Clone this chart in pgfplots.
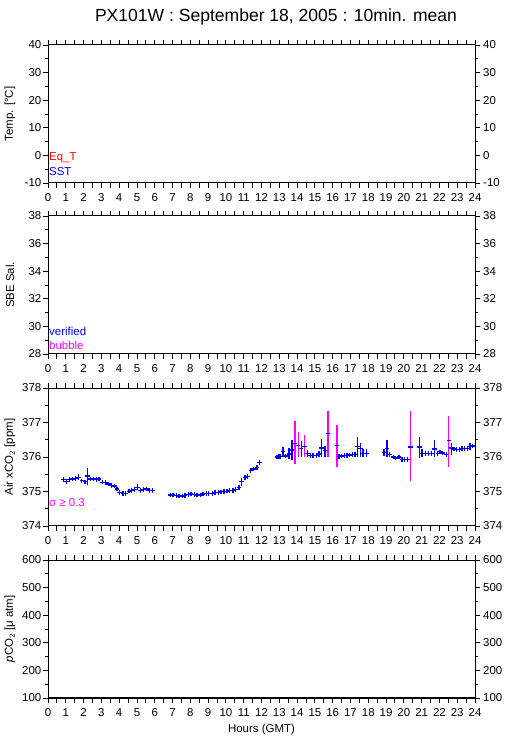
\documentclass[border=0pt]{standalone}
\usepackage{fontspec}
\setmainfont{Liberation Sans}
\usepackage{pgfplots}
\pgfplotsset{compat=1.18}
\usepackage{pgfplotstable}
\definecolor{mag}{RGB}{255,0,255}
\definecolor{pblue}{RGB}{0,0,255}
\definecolor{pred}{RGB}{255,0,0}

% 10-min mean Air xCO2, verified (blue)
\pgfplotstableread{
h y ep em
0.88 375.34 0.04 0.04
1.03 375.29 0.05 0.05
1.20 375.34 0.04 0.04
1.37 375.36 0.04 0.04
1.55 375.38 0.05 0.05
1.70 375.40 0.10 0.06
1.90 375.31 0.04 0.04
2.08 375.28 0.04 0.04
2.23 375.45 0.23 0.26
2.38 375.36 0.04 0.04
2.56 375.36 0.04 0.04
2.72 375.34 0.04 0.04
2.86 375.36 0.06 0.06
3.05 375.27 0.04 0.04
3.24 375.26 0.04 0.04
3.39 375.22 0.04 0.04
3.58 375.17 0.05 0.05
3.73 375.16 0.05 0.05
3.88 375.07 0.06 0.06
4.03 374.97 0.04 0.04
4.21 374.95 0.04 0.04
4.36 374.95 0.04 0.04
4.55 375.01 0.04 0.04
4.70 375.03 0.04 0.04
4.85 375.05 0.05 0.05
5.04 375.12 0.10 0.08
5.19 375.03 0.04 0.04
5.37 375.05 0.04 0.04
5.52 375.07 0.04 0.04
5.71 375.03 0.04 0.04
5.86 375.03 0.04 0.04
6.87 374.90 0.04 0.04
7.02 374.90 0.04 0.04
7.21 374.89 0.04 0.04
7.36 374.87 0.04 0.04
7.55 374.87 0.04 0.04
7.70 374.89 0.04 0.04
7.88 374.91 0.04 0.04
8.03 374.93 0.04 0.04
8.22 374.92 0.04 0.04
8.37 374.90 0.04 0.04
8.56 374.90 0.04 0.04
8.71 374.93 0.04 0.04
8.90 374.95 0.04 0.04
9.04 374.95 0.04 0.04
9.23 374.95 0.04 0.04
9.38 374.97 0.04 0.04
9.57 374.97 0.04 0.04
9.72 374.99 0.04 0.04
9.90 375.00 0.04 0.04
10.06 375.01 0.04 0.04
10.20 375.03 0.04 0.04
10.39 375.03 0.04 0.04
10.54 375.05 0.04 0.04
10.73 375.12 0.05 0.05
10.88 375.29 0.10 0.12
11.07 375.40 0.06 0.06
11.22 375.43 0.06 0.06
11.40 375.61 0.05 0.05
11.55 375.65 0.04 0.04
11.74 375.70 0.04 0.04
11.90 375.84 0.05 0.05
12.87 376.00 0.04 0.04
12.98 376.01 0.05 0.05
13.07 376.01 0.04 0.04
13.20 376.15 0.15 0.15
13.35 376.03 0.04 0.04
13.54 376.09 0.16 0.16
13.72 376.20 0.28 0.28
14.23 376.24 0.22 0.24
14.57 376.11 0.10 0.10
14.74 376.05 0.04 0.04
14.90 376.05 0.04 0.04
15.08 376.05 0.04 0.04
15.23 376.09 0.08 0.08
15.38 376.26 0.26 0.26
15.57 376.18 0.13 0.18
16.35 376.01 0.04 0.04
16.50 376.03 0.04 0.04
16.65 376.04 0.04 0.04
16.80 376.05 0.04 0.04
16.95 376.06 0.04 0.04
17.10 376.08 0.04 0.04
17.25 376.08 0.04 0.04
17.40 376.30 0.28 0.30
17.55 376.24 0.17 0.24
17.70 376.11 0.11 0.11
17.90 376.11 0.11 0.11
18.88 376.13 0.10 0.10
19.05 376.25 0.25 0.25
19.20 376.07 0.04 0.04
19.40 376.00 0.04 0.04
19.55 375.97 0.04 0.04
19.72 376.00 0.04 0.04
19.90 375.93 0.04 0.04
20.05 375.92 0.04 0.04
20.20 375.92 0.04 0.04
20.87 376.29 0.29 0.32
21.02 376.11 0.12 0.12
21.20 376.11 0.04 0.04
21.37 376.11 0.04 0.04
21.54 376.11 0.04 0.04
21.72 376.23 0.25 0.23
21.91 376.11 0.04 0.04
22.04 376.15 0.04 0.04
22.18 376.12 0.04 0.04
22.38 376.08 0.04 0.04
22.67 376.26 0.15 0.21
22.82 376.23 0.04 0.04
22.97 376.21 0.04 0.04
23.12 376.21 0.04 0.04
23.27 376.24 0.04 0.04
23.42 376.24 0.04 0.04
23.57 376.25 0.04 0.04
23.72 376.30 0.10 0.10
23.87 376.32 0.05 0.05
}\xcoblue

% points with sigma >= 0.3 (magenta bars, blue mean dash)
\pgfplotstableread{
h y ep em
13.89 376.40 0.63 0.61
14.06 376.34 0.39 0.34
14.40 376.30 0.34 0.30
15.73 376.69 0.65 0.69
16.24 376.34 0.59 0.62
20.38 376.29 1.03 1.00
22.53 376.48 0.70 0.76
}\xcohigh

\newcommand{\lab}{\fontsize{11.5}{12}\selectfont}

\pgfplotsset{
  panel/.style={
    scale only axis, width=427bp, height=138bp, anchor=south west,
    xmin=0, xmax=24,
    xtick={0,0.5,...,24},
    xticklabels={0,,1,,2,,3,,4,,5,,6,,7,,8,,9,,10,,11,,12,,13,,14,,15,,16,,17,,18,,19,,20,,21,,22,,23,,24},
    tick align=outside,
    major tick length=5bp, minor tick length=3bp,
    minor y tick num=1,
    axis line style={line width=1bp},
    every tick/.style={black, line width=0.9bp},
    /pgf/number format/assume math mode=true,
    tick label style={font=\lab},
    xticklabel style={inner sep=1bp, yshift=-4bp},
    yticklabel style={inner sep=1.5bp},
    every axis y label/.style={font=\lab, at={(rel axis cs:0,0.5)}, xshift=-38bp, rotate=90, anchor=center},
    every axis x label/.style={font=\lab, at={(rel axis cs:0.5,0)}, yshift=-32bp, anchor=center},
    clip=false,
  },
  rightlab/.style={panel, yticklabel pos=right, xticklabels={}, yticklabel style={inner sep=3bp}},
}

\begin{document}
\begin{tikzpicture}
\path (0,0) rectangle (509bp,739bp);
\node[font=\fontsize{17.6}{18}\selectfont] at (276bp,722bp) {PX101W : September 18, 2005 : 10min. mean};

% panel 1: temperature
\begin{axis}[panel, at={(48bp,556bp)}, ymin=-10, ymax=40, ytick={-10,0,...,40},
  ylabel={Temp. [°C]}]
\node[anchor=west, text=pred, inner sep=1bp, font=\lab] at (rel axis cs:0,0.18) {Eq\_T};
\node[anchor=west, text=pblue, inner sep=1bp, font=\lab] at (rel axis cs:0,0.08) {SST};
\end{axis}
\begin{axis}[rightlab, at={(48bp,556bp)}, ymin=-10, ymax=40, ytick={-10,0,...,40}]
\end{axis}

% panel 2: salinity
\begin{axis}[panel, at={(48bp,385bp)}, ymin=28, ymax=38, ytick={28,30,...,38},
  ylabel={SBE Sal.}]
\node[anchor=west, text=pblue, inner sep=1bp, font=\lab] at (rel axis cs:0,0.167) {verified};
\node[anchor=west, text=mag, inner sep=1bp, font=\lab] at (rel axis cs:0,0.065) {bubble};
\end{axis}
\begin{axis}[rightlab, at={(48bp,385bp)}, ymin=28, ymax=38, ytick={28,30,...,38}]
\end{axis}

% panel 3: Air xCO2
\begin{axis}[panel, at={(48bp,213bp)}, ymin=374, ymax=378, ytick={374,375,...,378},
  ylabel={Air xCO$_2$ [ppm]}]
\addplot[only marks, mark=+, pblue, mark size=2.3bp, line width=1.3bp,
  error bars/.cd, y dir=both, y explicit, error mark=none,
  error bar style={pblue, line width=1.3bp}]
  table[x=h, y=y, y error plus=ep, y error minus=em] {\xcoblue};
\addplot[only marks, mark=-, pblue, mark size=2.3bp, line width=1.3bp,
  error bars/.cd, y dir=both, y explicit, error mark=none,
  error bar style={mag, line width=1.3bp}]
  table[x=h, y=y, y error plus=ep, y error minus=em] {\xcohigh};
\node[anchor=west, text=mag, inner sep=1bp, font=\lab] at (rel axis cs:0,0.167) {σ ≥ 0.3};
\end{axis}
\begin{axis}[rightlab, at={(48bp,213bp)}, ymin=374, ymax=378, ytick={374,375,...,378}]
\end{axis}

% panel 4: pCO2
\begin{axis}[panel, at={(48bp,41bp)}, ymin=100, ymax=600, ytick={100,200,...,600},
  ylabel={\textit{p}CO$_2$ [μ atm]}, xlabel={Hours (GMT)}]
\end{axis}
\begin{axis}[rightlab, at={(48bp,41bp)}, ymin=100, ymax=600, ytick={100,200,...,600}]
\end{axis}
\end{tikzpicture}
\end{document}
